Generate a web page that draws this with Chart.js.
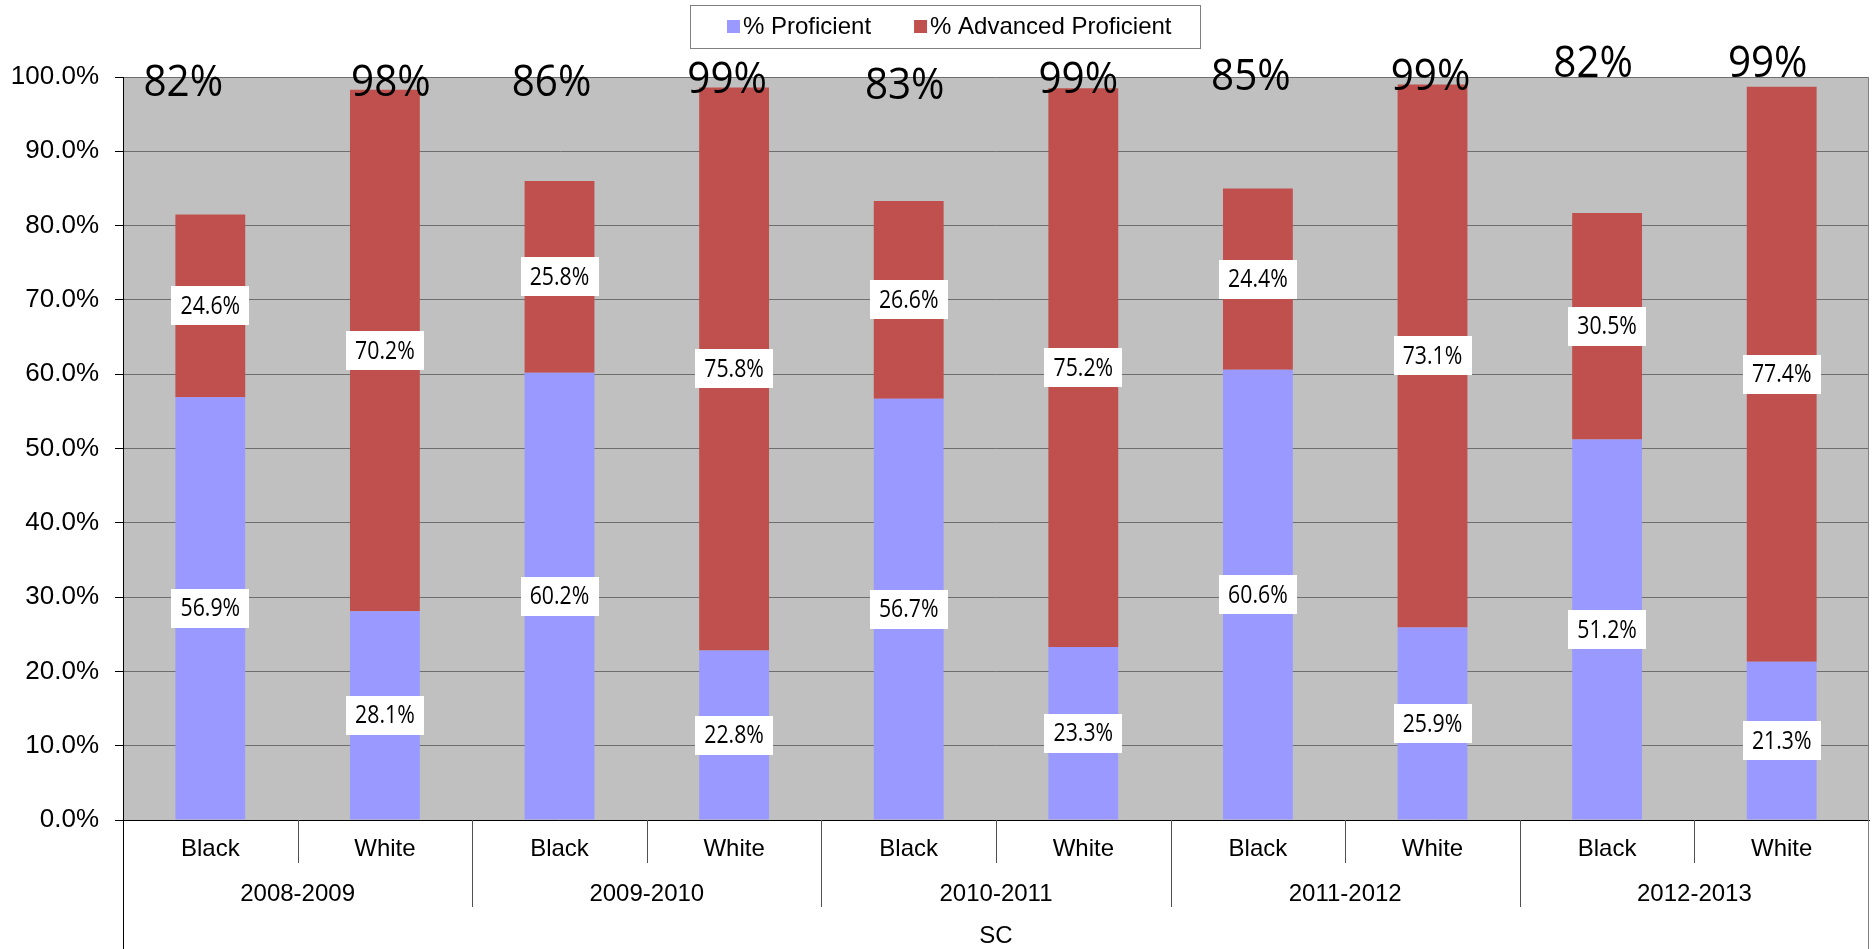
<!DOCTYPE html>
<html><head><meta charset="utf-8">
<script src="https://cdn.jsdelivr.net/npm/chart.js@4/dist/chart.umd.min.js"></script>
<style>html,body{margin:0;padding:0;background:#fff;overflow:hidden}#wrap{width:1873px;height:949px;position:relative}</style>
</head><body><div id="wrap"><canvas id="c" width="1873" height="949"></canvas></div>
<script>
// ---- data ----
const years = ['2008-2009','2009-2010','2010-2011','2011-2012','2012-2013'];
const groups = ['Black','White'];
const categories = ['Black','White','Black','White','Black','White','Black','White','Black','White'];
const region = 'SC';
const proficient = [56.9, 28.1, 60.2, 22.8, 56.7, 23.3, 60.6, 25.9, 51.2, 21.3];
const advanced   = [24.6, 70.2, 25.8, 75.8, 26.6, 75.2, 24.4, 73.1, 30.5, 77.4];
const totalLabels = ['82%','98%','86%','99%','83%','99%','85%','99%','82%','99%'];
const yTickValues = [0,10,20,30,40,50,60,70,80,90,100];
const seriesNames = ['% Proficient','% Advanced Proficient'];

// ---- annotation placement (manually placed text boxes in the original) ----
const totalLabelDx = [-27, 6, -8, -7, -4, -5, -7, -2, -14, -14];
const totalLabelBaseline = [97.4, 97.5, 97.5, 97.8, 97.0, 97.8, 98.2, 98.2, 100.0, 100.0];

const AX_FONT = '"Liberation Sans", Arial, sans-serif';

const bgPlugin = {
  id: 'bg',
  beforeDraw(chart) {
    const {ctx, chartArea: a} = chart;
    ctx.save();
    ctx.fillStyle = '#C0C0C0';
    ctx.fillRect(a.left, a.top, a.right - a.left, a.bottom - a.top);
    ctx.restore();
  }
};

const labelPlugin = {
  id: 'labels',
  afterDatasetsDraw(chart) {
    const {ctx} = chart;
    ctx.save();
    chart.data.datasets.forEach((ds, di) => {
      const meta = chart.getDatasetMeta(di);
      meta.data.forEach((el, i) => {
        const cx = el.x, cy = (el.y + el.base) / 2;
        ctx.fillStyle = '#fff';
        ctx.fillRect(Math.round(cx - 39), Math.round(cy - 19.5), 78, 39);
        ctx.save();
        ctx.translate(cx, cy);
        ctx.scale(0.85, 1);
        ctx.fillStyle = '#000';
        ctx.font = '25px "Open Sans"';
        ctx.textAlign = 'center';
        ctx.textBaseline = 'middle';
        ctx.fillText(ds.data[i].toFixed(1) + '%', 0, 1);
        ctx.restore();
      });
    });
    ctx.restore();
  },
  afterDraw(chart) {
    const {ctx, chartArea: a} = chart;
    const xs = chart.scales.x, ys = chart.scales.y;
    ctx.save();
    // plot frame right side
    ctx.strokeStyle = '#808080';
    ctx.lineWidth = 1;
    ctx.beginPath();
    ctx.moveTo(a.right - 0.5, a.top);
    ctx.lineTo(a.right - 0.5, 949);
    ctx.stroke();
    // category separators
    const slot = (xs.getPixelForValue(1) - xs.getPixelForValue(0));
    ctx.strokeStyle = '#505050';
    for (let i = 1; i < categories.length; i++) {
      const x = Math.round(xs.getPixelForValue(i) - slot / 2) + 0.5;
      ctx.beginPath();
      ctx.moveTo(x, a.bottom);
      ctx.lineTo(x, i % 2 === 0 ? 907 : 863);
      ctx.stroke();
    }
    ctx.strokeStyle = '#000';
    ctx.beginPath();
    ctx.moveTo(a.left + 0.5, a.bottom);
    ctx.lineTo(a.left + 0.5, 949);
    ctx.stroke();
    // category texts
    ctx.fillStyle = '#000';
    ctx.font = '24px ' + AX_FONT;
    ctx.textAlign = 'center';
    ctx.textBaseline = 'middle';
    categories.forEach((c, i) => ctx.fillText(c, xs.getPixelForValue(i), 849));
    years.forEach((y, j) => {
      const x = (xs.getPixelForValue(2 * j) + xs.getPixelForValue(2 * j + 1)) / 2;
      ctx.fillText(y, x, 894);
    });
    ctx.fillText(region, (a.left + a.right) / 2, 936);
    // total labels
    totalLabels.forEach((t, i) => {
      const x = xs.getPixelForValue(i) + totalLabelDx[i];
      const y = ys.getPixelForValue(totalLabelBaseline[i]);
      ctx.save();
      ctx.translate(x, y);
      ctx.scale(0.94, 1);
      ctx.font = '43px "Open Sans"';
      ctx.textAlign = 'center';
      ctx.textBaseline = 'alphabetic';
      ctx.fillStyle = '#000';
      ctx.fillText(t, 0, 0);
      ctx.restore();
    });
    // legend
    ctx.fillStyle = '#fff';
    ctx.fillRect(690, 5, 510, 43);
    ctx.strokeStyle = '#808080';
    ctx.strokeRect(690.5, 5.5, 510, 43);
    ctx.font = '24px ' + AX_FONT;
    ctx.textAlign = 'left';
    ctx.textBaseline = 'middle';
    let lx = 727;
    chart.data.datasets.forEach((ds, di) => {
      ctx.fillStyle = ds.backgroundColor;
      ctx.fillRect(lx, 20, 13, 13);
      ctx.fillStyle = '#000';
      ctx.fillText(ds.label, lx + 16, 27);
      lx += 16 + ctx.measureText(ds.label).width + 43;
    });
    ctx.restore();
  }
};

new Chart(document.getElementById('c'), {
  type: 'bar',
  data: {
    labels: categories,
    datasets: [
      {label: seriesNames[0], data: proficient, backgroundColor: '#9999FF', borderWidth: 0},
      {label: seriesNames[1], data: advanced, backgroundColor: '#C0504D', borderWidth: 0}
    ]
  },
  options: {
    responsive: false,
    animation: false,
    devicePixelRatio: 1,
    layout: {padding: {top: 77, right: 4, left: 0, bottom: 0}},
    datasets: {bar: {barPercentage: 0.4, categoryPercentage: 1.0}},
    plugins: {legend: {display: false}, tooltip: {enabled: false}},
    scales: {
      x: {
        stacked: true,
        grid: {display: false},
        ticks: {display: false},
        border: {display: true, color: '#000', width: 1},
        afterFit(s) { s.height = 129; }
      },
      y: {
        stacked: true,
        min: 0, max: 100,
        afterBuildTicks(s) { s.ticks = yTickValues.map(v => ({value: v})); },
        ticks: {
          callback: v => v.toFixed(1) + '%',
          font: {family: 'Liberation Sans', size: 26},
          color: '#000',
          padding: 16
        },
        grid: {color: '#6e6e6e', tickLength: 8, tickColor: '#000', lineWidth: 1},
        border: {display: true, color: '#000', width: 1},
        afterFit(s) { s.width = 123; }
      }
    }
  },
  plugins: [bgPlugin, labelPlugin]
});
</script></body></html>
